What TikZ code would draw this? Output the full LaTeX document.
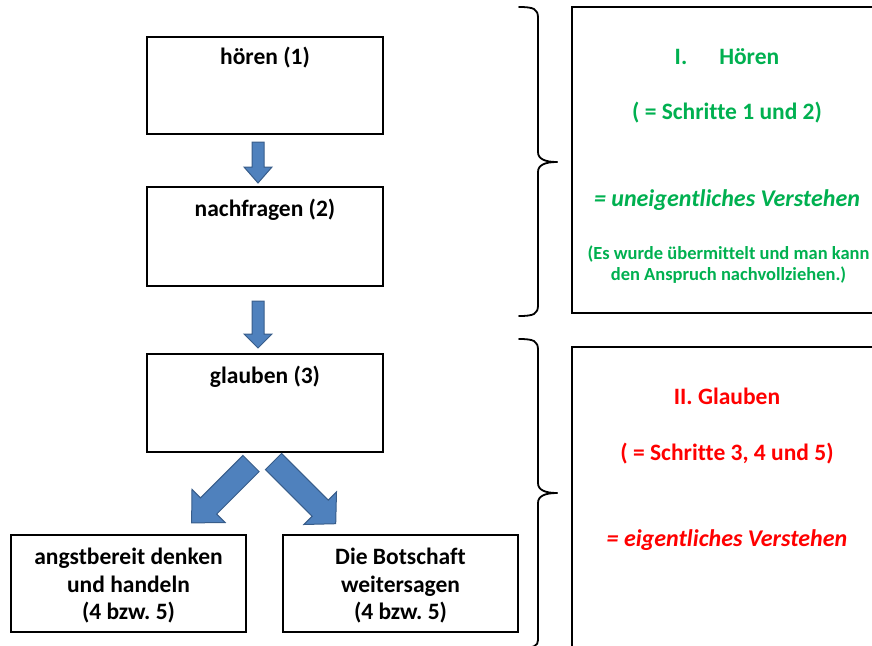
\documentclass[tikz,border=0pt]{standalone}
\usepackage{fontspec}
\setmainfont{Carlito}[Ligatures={NoCommon}]
\frenchspacing
\begin{document}
\begin{tikzpicture}[x=1pt,y=-1pt,
  box/.style={draw=black, line width=2pt, rectangle, inner sep=0pt},
  lbl/.style={font=\fontsize{23.5}{27.5}\selectfont\bfseries, align=center, inner sep=0pt},
  blk/.style={fill={rgb,255:red,79;green,129;blue,189}, draw={rgb,255:red,56;green,93;blue,138}, line width=1pt},
  brace/.style={line width=1.8pt, line cap=round},
  greentxt/.style={text={rgb,255:red,0;green,176;blue,80}, inner sep=0pt},
  redtxt/.style={text={rgb,255:red,255;green,0;blue,0}, inner sep=0pt}
]
\useasboundingbox (0,0) rectangle (872,645);
% left boxes
\node[box, minimum width=236, minimum height=97] (b1) at (265,85.5) {};
\node[box, minimum width=236, minimum height=99] (b2) at (265,236.5) {};
\node[box, minimum width=236, minimum height=98] (b3) at (265,403) {};
\node[box, minimum width=235, minimum height=97] (b4) at (128.5,583.5) {};
\node[box, minimum width=235, minimum height=97] (b5) at (400.5,583.5) {};
\node[lbl] (t1) at (265,58) {hören (1)};
\node[lbl] (t2) at (265,210) {nachfragen (2)};
\node[lbl] (t3) at (265,377) {glauben (3)};
\node[lbl] (t4) at (128.5,586) {angstbereit denken\\und handeln\\(4 bzw. 5)};
\node[lbl] (t5) at (400.5,586) {Die Botschaft\\weitersagen\\(4 bzw. 5)};
% block arrows
\filldraw[blk] (252,142) -- (252,167) -- (244,167) -- (258,183) -- (272,167) -- (264,167) -- (264,142) -- cycle;
\filldraw[blk] (252,301) -- (252,334) -- (244,334) -- (258,348) -- (272,334) -- (264,334) -- (264,301) -- cycle;
\filldraw[blk] (242.9,455.4) -- (200.5,497.8) -- (192.0,489.3) -- (191.6,522.9) -- (225.2,522.5) -- (216.7,514.0) -- (259.1,471.6) -- cycle;
\filldraw[blk] (281.6,453.4) -- (328.3,500.1) -- (336.5,491.9) -- (335.7,523.7) -- (303.9,524.5) -- (312.1,516.3) -- (265.4,469.6) -- cycle;
% braces
\draw[brace] (519,7) .. controls (534,7) and (538,9) .. (538,18) -- (538,152) .. controls (538,159) and (545,162) .. (557,162);
\draw[brace] (557,162) .. controls (545,162) and (538,165) .. (538,172) -- (538,305) .. controls (538,314) and (534,316) .. (519,316);
\draw[brace] (519,339) .. controls (534,339) and (538,341) .. (538,350) -- (538,483) .. controls (538,490) and (545,493) .. (557,493);
\draw[brace] (557,493) .. controls (545,493) and (538,496) .. (538,503) -- (538,640) .. controls (538,646) and (534,648) .. (519,648);
% right boxes
\node[box, minimum width=308, minimum height=306] (r1) at (726,160) {};
\node[box, minimum width=308, minimum height=313] (r2) at (726,503.5) {};
\node[greentxt, font=\fontsize{23.5}{27}\selectfont\bfseries] (g1) at (727,57) {I.\hspace{32pt}Hören};
\node[greentxt, font=\fontsize{23.5}{27}\selectfont\bfseries] (g2) at (727,113) {( = Schritte 1 und 2)};
\node[greentxt, font=\fontsize{24}{28}\selectfont\bfseries\itshape] (g3) at (727,200) {= uneigentliches Verstehen};
\node[greentxt, font=\fontsize{18.5}{21}\selectfont\bfseries, align=center] (g4) at (728.5,265) {(Es wurde übermittelt und man kann\\den Anspruch nachvollziehen.)};
\node[redtxt, font=\fontsize{23.5}{27}\selectfont\bfseries] (h1) at (727,396) {II. Glauben};
\node[redtxt, font=\fontsize{23.5}{27}\selectfont\bfseries] (h2) at (727,454) {( = Schritte 3, 4 und 5)};
\node[redtxt, font=\fontsize{24}{28}\selectfont\bfseries\itshape] (h3) at (727,540) {= eigentliches Verstehen};
\end{tikzpicture}
\end{document}
